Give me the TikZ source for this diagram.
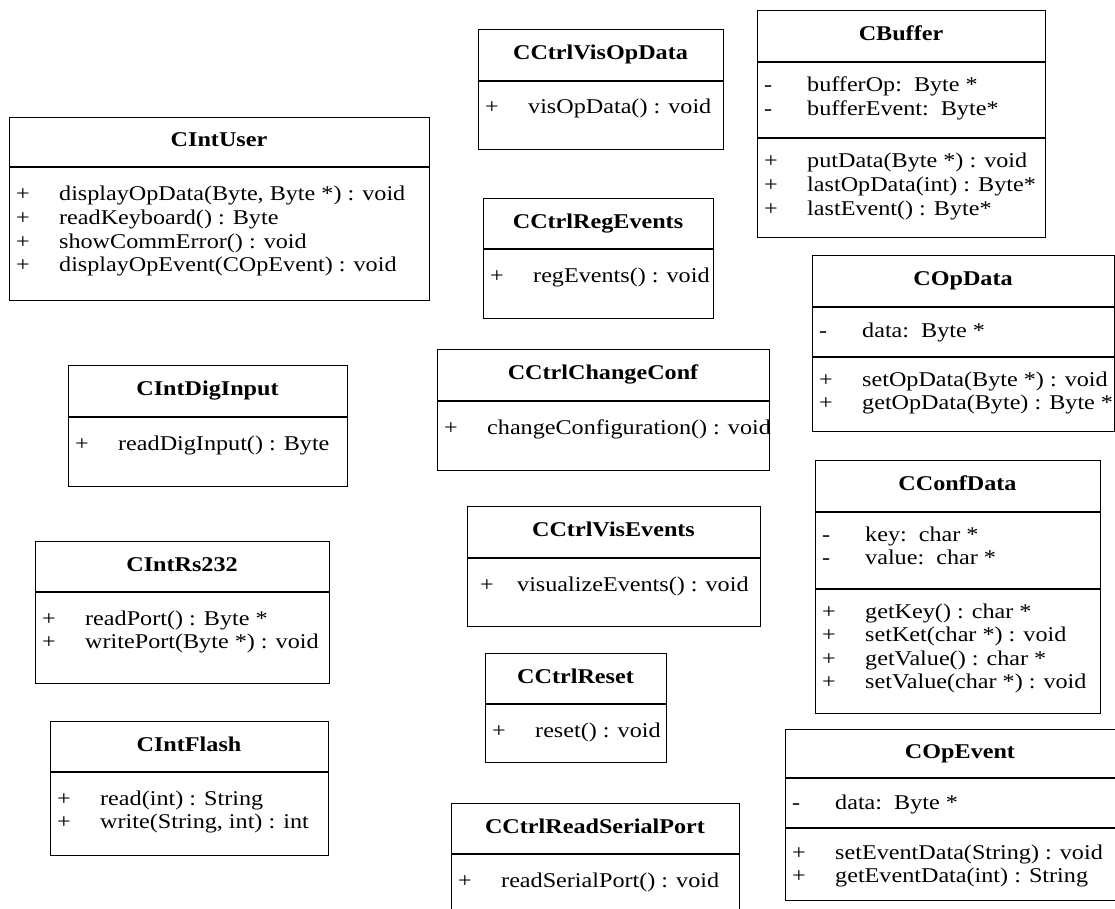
\documentclass[tikz,border=0pt]{standalone}
\usepackage{fontspec}
\setmainfont{Liberation Serif}[FakeStretch=1.15]
\tikzset{
  clsbox/.style={draw=black, line width=1.2pt, inner sep=0pt, anchor=north west},
  divline/.style={line width=1.2pt},
  clstitle/.style={font=\bfseries\fontsize{21}{24}\selectfont, inner sep=0pt, anchor=center},
  member/.style={font=\fontsize{21}{24}\selectfont, inner sep=0pt, anchor=base west},
}
\newcommand{\umlclass}[7]{%
  \node[clsbox, minimum width={(#4)-(#2)}, minimum height={(#5)-(#3)}] (#1) at (#2,#3) {};
  \draw[divline] (#1.west |- 0,#6) -- (#1.east |- 0,#6);
  \node[clstitle] (#1-title) at ({(#2+#4)/2},{(#3+#6)/2}) {\strut #7};
}
\newcommand{\umlsep}[2]{\draw[divline] (#1.west |- 0,#2) -- (#1.east |- 0,#2);}
\newcommand{\umlmem}[5]{%
  \node[member] (#1-s) at (#2+7,#3+7) {#4};
  \node[member] (#1) at (#2+50,#3+7) {#5};
}
\begin{document}
\begin{tikzpicture}[x=1pt,y=-1pt]
\useasboundingbox (0,0) rectangle (1115,909);
\clip (0,0) rectangle (1115,909);

% CIntUser
\umlclass{intuser}{9}{117}{429}{300}{167}{CIntUser}
\umlmem{intuser-1}{9}{194}{+}{displayOpData(Byte, Byte *) : void}
\umlmem{intuser-2}{9}{217.5}{+}{readKeyboard() : Byte}
\umlmem{intuser-3}{9}{241}{+}{showCommError() : void}
\umlmem{intuser-4}{9}{264.5}{+}{displayOpEvent(COpEvent) : void}

% CIntDigInput
\umlclass{digin}{68}{365}{347}{486}{417}{CIntDigInput}
\umlmem{digin-1}{68}{443}{+}{readDigInput() : Byte}

% CIntRs232
\umlclass{rs}{35}{541}{329}{683}{592}{CIntRs232}
\umlmem{rs-1}{35}{618}{+}{readPort() : Byte *}
\umlmem{rs-2}{35}{641.5}{+}{writePort(Byte *) : void}

% CIntFlash
\umlclass{flash}{50}{721}{328}{855}{772}{CIntFlash}
\umlmem{flash-1}{50}{798}{+}{read(int) : String}
\umlmem{flash-2}{50}{821.5}{+}{write(String, int) : int}

% CCtrlVisOpData
\umlclass{visop}{478}{29}{723}{149}{81}{CCtrlVisOpData}
\umlmem{visop-1}{478}{107}{+}{visOpData() : void}

% CCtrlRegEvents
\umlclass{reg}{483}{198}{713}{318}{249}{CCtrlRegEvents}
\umlmem{reg-1}{483}{275}{+}{regEvents() : void}

% CCtrlChangeConf
\umlclass{chg}{437}{349}{769}{470}{401}{CCtrlChangeConf}
\umlmem{chg-1}{437}{427}{+}{changeConfiguration() : void}

% CCtrlVisEvents
\umlclass{visev}{467}{506}{760}{626}{558}{CCtrlVisEvents}
\node[member] (visev-1-s) at (480,591) {+};
\node[member] (visev-1) at (517,591) {visualizeEvents() : void};

% CCtrlReset
\umlclass{reset}{485}{653}{666}{762}{704}{CCtrlReset}
\umlmem{reset-1}{485}{730}{+}{reset() : void}

% CCtrlReadSerialPort
\umlclass{rsp}{451}{803}{739}{940}{854}{CCtrlReadSerialPort}
\umlmem{rsp-1}{451}{880}{+}{readSerialPort() : void}

% CBuffer
\umlclass{buf}{757}{10}{1045}{237}{62}{CBuffer}
\umlmem{buf-a1}{757}{85}{-}{bufferOp:\ \ Byte *}
\umlmem{buf-a2}{757}{108.5}{-}{bufferEvent:\ \ Byte*}
\umlsep{buf}{138}
\umlmem{buf-o1}{757}{161}{+}{putData(Byte *) : void}
\umlmem{buf-o2}{757}{184.5}{+}{lastOpData(int) : Byte*}
\umlmem{buf-o3}{757}{208}{+}{lastEvent() : Byte*}

% COpData
\umlclass{opd}{812}{255}{1114}{431}{307}{COpData}
\umlmem{opd-a1}{812}{330}{-}{data:\ \ Byte *}
\umlsep{opd}{357}
\umlmem{opd-o1}{812}{379}{+}{setOpData(Byte *) : void}
\umlmem{opd-o2}{812}{402.5}{+}{getOpData(Byte) : Byte *}

% CConfData
\umlclass{conf}{815}{460}{1100}{713}{512}{CConfData}
\umlmem{conf-a1}{815}{534}{-}{key:\ \ char *}
\umlmem{conf-a2}{815}{557.5}{-}{value:\ \ char *}
\umlsep{conf}{589}
\umlmem{conf-o1}{815}{611}{+}{getKey() : char *}
\umlmem{conf-o2}{815}{634.5}{+}{setKet(char *) : void}
\umlmem{conf-o3}{815}{658}{+}{getValue() : char *}
\umlmem{conf-o4}{815}{681.5}{+}{setValue(char *) : void}

% COpEvent
\umlclass{ope}{785}{729}{1135}{900}{778}{COpEvent}
\umlmem{ope-a1}{785}{802}{-}{data:\ \ Byte *}
\umlsep{ope}{828}
\umlmem{ope-o1}{785}{852}{+}{setEventData(String) : void}
\umlmem{ope-o2}{785}{875.5}{+}{getEventData(int) : String}
\end{tikzpicture}
\end{document}
